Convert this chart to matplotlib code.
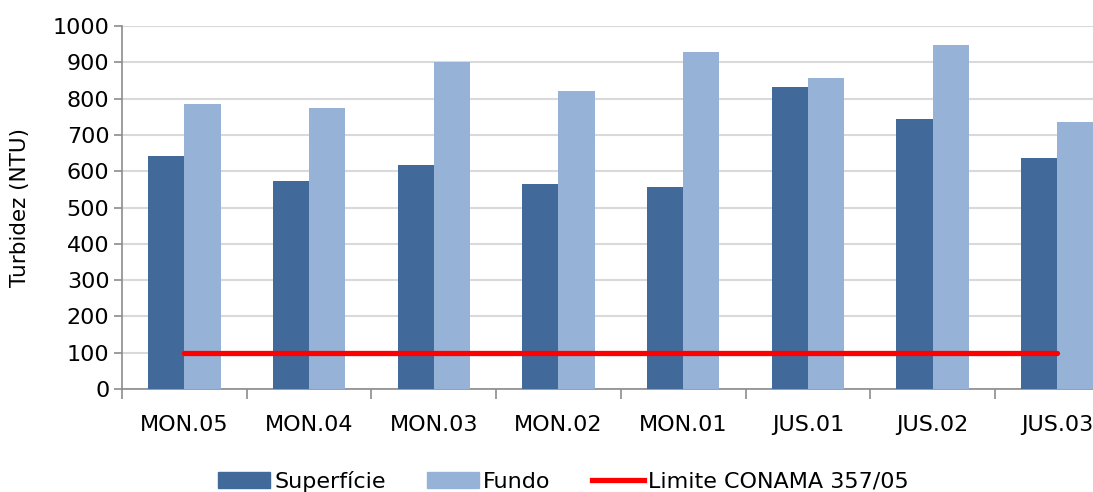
import matplotlib
matplotlib.use("Agg")
import matplotlib.pyplot as plt
import numpy as np
from matplotlib.patches import Patch
from matplotlib.lines import Line2D

categories = ["MON.05", "MON.04", "MON.03", "MON.02", "MON.01", "JUS.01", "JUS.02", "JUS.03"]
superficie = [642, 574, 617, 564, 557, 831, 743, 637]
fundo = [785, 775, 900, 820, 929, 856, 948, 735]
limite = [100] * len(categories)
yticks = list(range(0, 1001, 100))

plt.rcParams['font.family'] = ['DejaVu Sans']

fig = plt.figure(figsize=(10.93, 4.92), dpi=100)
W, H = 1093, 492
ax = fig.add_axes([122 / W, (H - 389) / H, 8 * 124.7 / W, (389 - 26) / H])

x = np.arange(len(categories))
bw = 0.29
dark = "#416A9B"
light = "#96B3D7"
ax.bar(x - bw / 2, superficie, bw, color=dark, zorder=3)
ax.bar(x + bw / 2, fundo, bw, color=light, zorder=3)
ax.plot(x, limite, color="#FF0000", lw=3.8, solid_capstyle="round", zorder=4)

ax.set_xlim(-0.5, len(categories) - 0.5)
ax.set_ylim(0, 1000)
ax.set_yticks(yticks)
ax.set_yticklabels([str(v) for v in yticks], fontsize=16)
ax.set_xticks(x)
ax.set_xticklabels(categories, fontsize=16)
ax.set_xticks(np.arange(-0.5, len(categories)), minor=True)
ax.tick_params(axis='x', which='major', length=0, pad=19)
ax.tick_params(axis='x', which='minor', length=7, width=1.2, color="#8C8C8C")
ax.tick_params(axis='y', length=6, width=1.2, color="#8C8C8C", pad=3)
ax.grid(axis='y', color="#D9D9D9", lw=1.5, zorder=0)
for s in ["top", "right"]:
    ax.spines[s].set_visible(False)
for s in ["left", "bottom"]:
    ax.spines[s].set_color("#8C8C8C")
    ax.spines[s].set_linewidth(1.2)
ax.set_ylabel("Turbidez (NTU)", fontsize=15.5)
ax.yaxis.set_label_coords(-0.092, 0.5)

handles = [Patch(color=dark), Patch(color=light), Line2D([0], [0], color="#FF0000", lw=3.8)]
labels = ["Superfície", "Fundo", "Limite CONAMA 357/05"]
fig.legend(handles, labels, loc="center", bbox_to_anchor=(563.5 / W, 11 / H), ncol=3,
           frameon=False, fontsize=16, handlelength=2.35, handleheight=0.72,
           handletextpad=0.18, columnspacing=1.85)

fig.savefig("out.png", dpi=100)
